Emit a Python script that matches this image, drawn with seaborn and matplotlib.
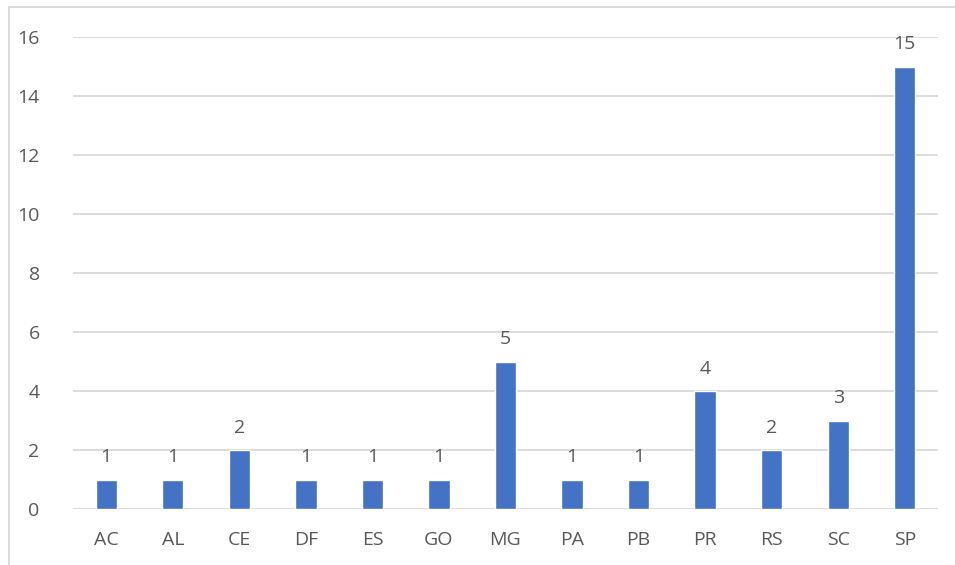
import pandas as pd
import seaborn as sns
from matplotlib import pyplot as plt
from matplotlib.patches import Rectangle

estados = ["AC", "AL", "CE", "DF", "ES", "GO", "MG", "PA", "PB", "PR", "RS", "SC", "SP"]
quantidade = [1, 1, 2, 1, 1, 1, 5, 1, 1, 4, 2, 3, 15]

df = pd.DataFrame({"estado": estados, "qtd": quantidade})

sns.set_style("white")
plt.rcParams["font.family"] = ["Open Sans", "DejaVu Sans"]

cinza = "#595959"
fig = plt.figure(figsize=(9.55, 5.65), dpi=100)
ax = fig.add_axes([0.0764, 0.0991, 0.9058, 0.8354])

sns.barplot(x="estado", y="qtd", data=df, color="#4472C4", width=0.32,
            saturation=1, ax=ax, zorder=3)

ax.set_ylim(0, 16)
ax.set_yticks(range(0, 17, 2))
ax.set_xlim(-0.5, len(estados) - 0.5)
ax.grid(axis="y", color="#D9D9D9", linewidth=1.3, zorder=0)
ax.set_xlabel("")
ax.set_ylabel("")
for s in ax.spines.values():
    s.set_visible(False)
ax.tick_params(axis="both", length=0, labelsize=14, labelcolor=cinza)
ax.tick_params(axis="y", pad=24)
ax.tick_params(axis="x", pad=16)

for i, v in enumerate(quantidade):
    ax.text(i, v + 0.45, str(v), ha="center", va="bottom", fontsize=14, color=cinza)

# moldura do gráfico (recortada à direita e embaixo)
fig.patches.append(Rectangle((9 / 955, -0.1), 1.2, 1 - 7 / 565 + 0.1,
                             transform=fig.transFigure, fill=False,
                             edgecolor="#D9D9D9", linewidth=1.3))

plt.savefig("out.png", dpi=100)
